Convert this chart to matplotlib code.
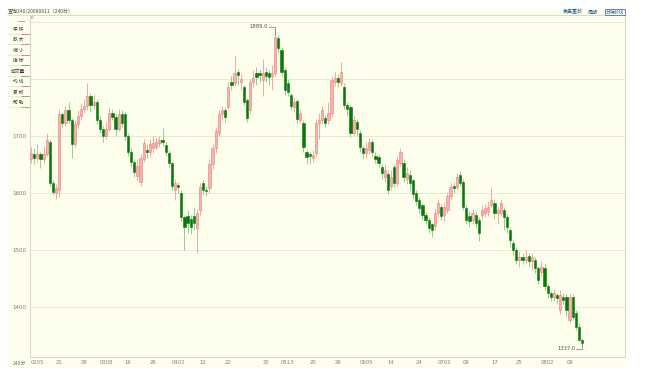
import matplotlib
matplotlib.use("Agg")
import matplotlib.pyplot as plt
from matplotlib.patches import Rectangle
from matplotlib.lines import Line2D
import numpy as np

# ---------------- data ----------------
opens = [1660,1668,1662,1668,1660,1668,1690,1618,1600,1605,1738,1722,1745,1728,1685,1720,1735,1748,1752,1770,
         1755,1760,1728,1712,1700,1712,1740,1733,1712,1738,1738,1700,1672,1655,1630,1620,1660,1675,1672,1678,
         1680,1688,1692,1684,1670,1652,1605,1614,1600,1558,1560,1555,1560,1538,1570,1618,1606,1608,1650,1678,
         1705,1738,1745,1750,1795,1793,1812,1795,1786,1763,1745,1795,1810,1810,1798,1812,1810,1805,1810,1872,
         1851,1816,1792,1772,1750,1762,1728,1723,1672,1668,1661,1670,1723,1728,1731,1728,1740,1795,1802,1793,
         1786,1754,1751,1705,1725,1705,1679,1670,1675,1690,1665,1663,1646,1628,1634,1612,1645,1617,1652,1652,
         1625,1632,1622,1600,1588,1578,1561,1553,1545,1542,1565,1575,1561,1570,1594,1612,1611,1632,1620,1573,
         1560,1553,1562,1553,1561,1564,1567,1579,1582,1564,1564,1570,1558,1535,1512,1500,1482,1488,1482,1490,
         1480,1482,1468,1462,1468,1436,1424,1418,1421,1395,1418,1418,1377,1418,1389,1365,1342]
closes = [1670,1662,1668,1660,1668,1693,1618,1602,1608,1738,1722,1745,1728,1685,1720,1735,1748,1752,1770,1755,
          1760,1728,1712,1700,1712,1740,1733,1712,1738,1722,1700,1672,1655,1636,1648,1662,1688,1672,1685,1688,
          1690,1692,1690,1672,1652,1612,1618,1610,1558,1540,1548,1540,1548,1565,1610,1606,1603,1650,1678,1708,
          1738,1745,1733,1786,1790,1810,1807,1800,1760,1732,1795,1802,1804,1806,1810,1805,1804,1810,1874,1854,
          1812,1780,1777,1752,1760,1730,1740,1680,1663,1664,1667,1723,1728,1745,1723,1740,1798,1802,1795,1812,
          1754,1748,1705,1728,1712,1680,1670,1678,1690,1672,1660,1653,1635,1640,1605,1628,1617,1658,1672,1628,
          1635,1617,1598,1585,1573,1561,1553,1538,1535,1565,1582,1560,1576,1594,1611,1608,1628,1618,1576,1553,
          1550,1564,1548,1530,1570,1573,1576,1588,1564,1570,1582,1558,1541,1518,1500,1482,1488,1482,1488,1480,
          1488,1468,1447,1471,1436,1424,1418,1424,1415,1421,1412,1395,1418,1383,1365,1342,1337]
highs = [1680,1678,1685,1672,1682,1705,1695,1622,1615,1748,1742,1752,1760,1732,1728,1745,1758,1765,1792,1775,
         1772,1765,1735,1718,1725,1750,1748,1738,1748,1745,1742,1705,1678,1660,1660,1668,1695,1685,1695,1700,
         1698,1700,1714,1690,1675,1655,1625,1620,1605,1562,1570,1562,1575,1572,1618,1622,1612,1660,1685,1715,
         1745,1752,1750,1795,1805,1842,1818,1810,1790,1766,1800,1815,1820,1818,1835,1820,1815,1825,1889,1876,
         1855,1820,1800,1776,1768,1765,1748,1728,1676,1672,1675,1730,1740,1752,1736,1760,1805,1812,1808,1830,
         1792,1760,1755,1735,1730,1710,1683,1690,1696,1694,1672,1668,1650,1650,1640,1640,1650,1665,1678,1660,
         1645,1640,1625,1605,1592,1582,1566,1557,1548,1572,1590,1580,1582,1600,1618,1620,1635,1638,1625,1578,
         1568,1572,1568,1558,1578,1580,1585,1611,1590,1575,1590,1575,1562,1540,1518,1505,1498,1495,1500,1495,
         1495,1488,1472,1480,1475,1440,1428,1432,1425,1430,1425,1422,1425,1422,1395,1372,1345]
lows = [1652,1650,1655,1643,1650,1665,1612,1596,1590,1593,1715,1718,1722,1662,1680,1712,1728,1740,1745,1742,
        1748,1720,1705,1690,1695,1708,1728,1700,1708,1715,1692,1665,1648,1628,1622,1612,1655,1662,1665,1670,
        1675,1680,1682,1665,1645,1605,1588,1600,1550,1500,1530,1528,1535,1495,1562,1598,1595,1600,1642,1670,
        1700,1730,1725,1745,1780,1788,1790,1780,1755,1725,1740,1785,1790,1795,1770,1795,1790,1780,1805,1845,
        1805,1772,1770,1745,1742,1722,1722,1672,1650,1650,1655,1665,1695,1720,1715,1720,1735,1788,1785,1788,
        1748,1735,1698,1700,1700,1672,1660,1662,1668,1665,1652,1645,1625,1620,1598,1605,1610,1612,1648,1620,
        1615,1605,1590,1578,1565,1552,1545,1530,1523,1535,1558,1552,1550,1565,1588,1600,1605,1612,1570,1545,
        1540,1545,1540,1515,1555,1558,1560,1575,1555,1545,1560,1535,1530,1505,1492,1475,1470,1475,1478,1470,
        1465,1460,1440,1455,1430,1415,1410,1410,1405,1388,1405,1385,1372,1378,1360,1340,1337]

ytick_values = [1400, 1500, 1600, 1700, 1800, 1900]
ytick_labels = ["1400", "1500", "1600", "1700", "", ""]
xtick_labels = ["0205", "21", "29", "0308", "16", "26", "0402", "12", "22", "30", "0513",
                "20", "26", "0605", "14", "24", "0702", "09", "17", "25", "0802", "09"]
xtick_idx = [2, 9, 17, 24, 31, 39, 47, 55, 63, 75, 82, 90, 98, 107, 115, 124, 132, 139, 148, 156, 165, 172]
period_label = "240分"
header_text = "查询240/20080811（240分）"
menu_items = ["平 移", "放 大", "缩 小", "指 标", "成交量", "均 线", "复 权", "帮 助"]
top_links = ["复盘重放", "周期", "分钟K线"]

# ---------------- figure ----------------
W, H = 647, 381
CJK = ["Noto Sans CJK SC", "DejaVu Sans"]
fig = plt.figure(figsize=(W / 100, H / 100), dpi=100)
fig.patch.set_facecolor("white")

def fx(px):
    return px / W

def fy(py):
    return 1 - py / H

cream = "#fefeec"
fig.patches.append(Rectangle((fx(7), fy(368)), fx(625 - 7), (368 - 8) / H,
                             transform=fig.transFigure, facecolor=cream, edgecolor="none", zorder=-10))
# header separator line
fig.lines.append(Line2D([fx(7), fx(625)], [fy(15), fy(15)], transform=fig.transFigure,
                        color="#dcdcc4", lw=0.6))
fig.text(fx(8), fy(11), header_text, fontsize=3.6, color="#555555", family=CJK, va="center", ha="left")

# top-right links
fig.text(fx(573), fy(12), top_links[0], fontsize=3.6, color="#2b5c9a", family=CJK, ha="center", va="center")
fig.text(fx(593), fy(12), top_links[1], fontsize=3.6, color="#2b5c9a", family=CJK, ha="center", va="center")
fig.text(fx(615), fy(12), top_links[2], fontsize=3.6, color="#2b5c9a", family=CJK, ha="center", va="center",
         bbox=dict(boxstyle="square,pad=0.15", fc="white", ec="#2b5c9a", lw=0.5))

ax = fig.add_axes([fx(30), fy(357), fx(625 - 30), (357 - 15) / H])
ax.set_facecolor(cream)
n = len(closes)
xs = np.arange(n)
ax.set_xlim(-0.32, 189.7)
ax.set_ylim(1312.4, 1911.9)

for s in ax.spines.values():
    s.set_color("#d6d6c0")
    s.set_linewidth(0.7)

ax.set_yticks(ytick_values)
ax.set_yticklabels(ytick_labels)
ax.tick_params(axis="y", length=0, pad=2.5, labelsize=4, labelcolor="#777777")
ax.set_xticks(xtick_idx)
ax.set_xticklabels(xtick_labels)
ax.tick_params(axis="x", length=0, pad=2.5, labelsize=3.8, labelcolor="#808080")
ax.grid(axis="y", color="#e6e6cf", lw=0.6)
ax.set_axisbelow(True)

o = np.array(opens, float)
c = np.array(closes, float)
h = np.array(highs, float)
l = np.array(lows, float)
up = c >= o

up_face, up_edge, up_wick = "#f6b2b2", "#e87c7c", "#f09a9a"
dn_face, dn_edge, dn_wick = "#0a780a", "#0a780a", "#86c486"

ax.vlines(xs[up], l[up], h[up], color=up_wick, lw=0.6, zorder=2)
ax.vlines(xs[~up], l[~up], h[~up], color=dn_wick, lw=0.6, zorder=2)
body_bottom = np.minimum(o, c)
body_h = np.maximum(np.abs(c - o), 1.2)
ax.bar(xs[up], body_h[up], bottom=body_bottom[up], width=0.72, color=up_face,
       edgecolor=up_edge, linewidth=0.4, zorder=3)
ax.bar(xs[~up], body_h[~up], bottom=body_bottom[~up], width=0.72, color=dn_face,
       edgecolor=dn_edge, linewidth=0.4, zorder=3)

# max / min annotations
imax = int(np.argmax(h))
imin = int(np.argmin(l))
ax.plot([imax - 2.0, imax, imax], [h[imax] + 2, h[imax] + 2, h[imax] - 12], color="#777777", lw=0.5, zorder=4)
ax.text(imax - 2.2, h[imax] + 2, f"{h[imax]:.1f}", fontsize=3.8, color="#555555", ha="right", va="center")
ax.plot([imin - 1.8, imin, imin], [l[imin] - 10, l[imin] - 10, l[imin]], color="#777777", lw=0.5, zorder=4)
ax.text(imin - 2.0, l[imin] - 10, f"{l[imin]:.1f}", fontsize=3.8, color="#555555", ha="right", va="center")

# period label at bottom-left
fig.text(fx(20), fy(363), period_label, fontsize=3.6, color="#777777", family=CJK, ha="center", va="center")
fig.text(fx(32), fy(18), "K", fontsize=3, color="#777777", ha="center", va="center")

# left menu panel
row_y = [29, 39.5, 50, 60.5, 71, 81.5, 92, 102.5]
underline_colors = ["#e05050", "#e05050", "#e05050", "#40a040", "#40a040", "#e05050", "#40a040", "#40a040"]
fig.lines.append(Line2D([fx(18), fx(24)], [fy(21), fy(21)], transform=fig.transFigure, color="#888888", lw=0.5))
for ry, label, uc in zip(row_y, menu_items, underline_colors):
    fig.text(fx(18), fy(ry), label, fontsize=3.4, color="#333333", family=CJK, ha="center", va="center")
    fig.lines.append(Line2D([fx(21), fx(29)], [fy(ry + 4.5), fy(ry + 4.5)], transform=fig.transFigure,
                            color=uc, lw=0.5))
    fig.lines.append(Line2D([fx(8), fx(21)], [fy(ry + 4.5), fy(ry + 4.5)], transform=fig.transFigure,
                            color="#d8d8c8", lw=0.4))

fig.savefig("out.png", dpi=100, facecolor=fig.get_facecolor())
